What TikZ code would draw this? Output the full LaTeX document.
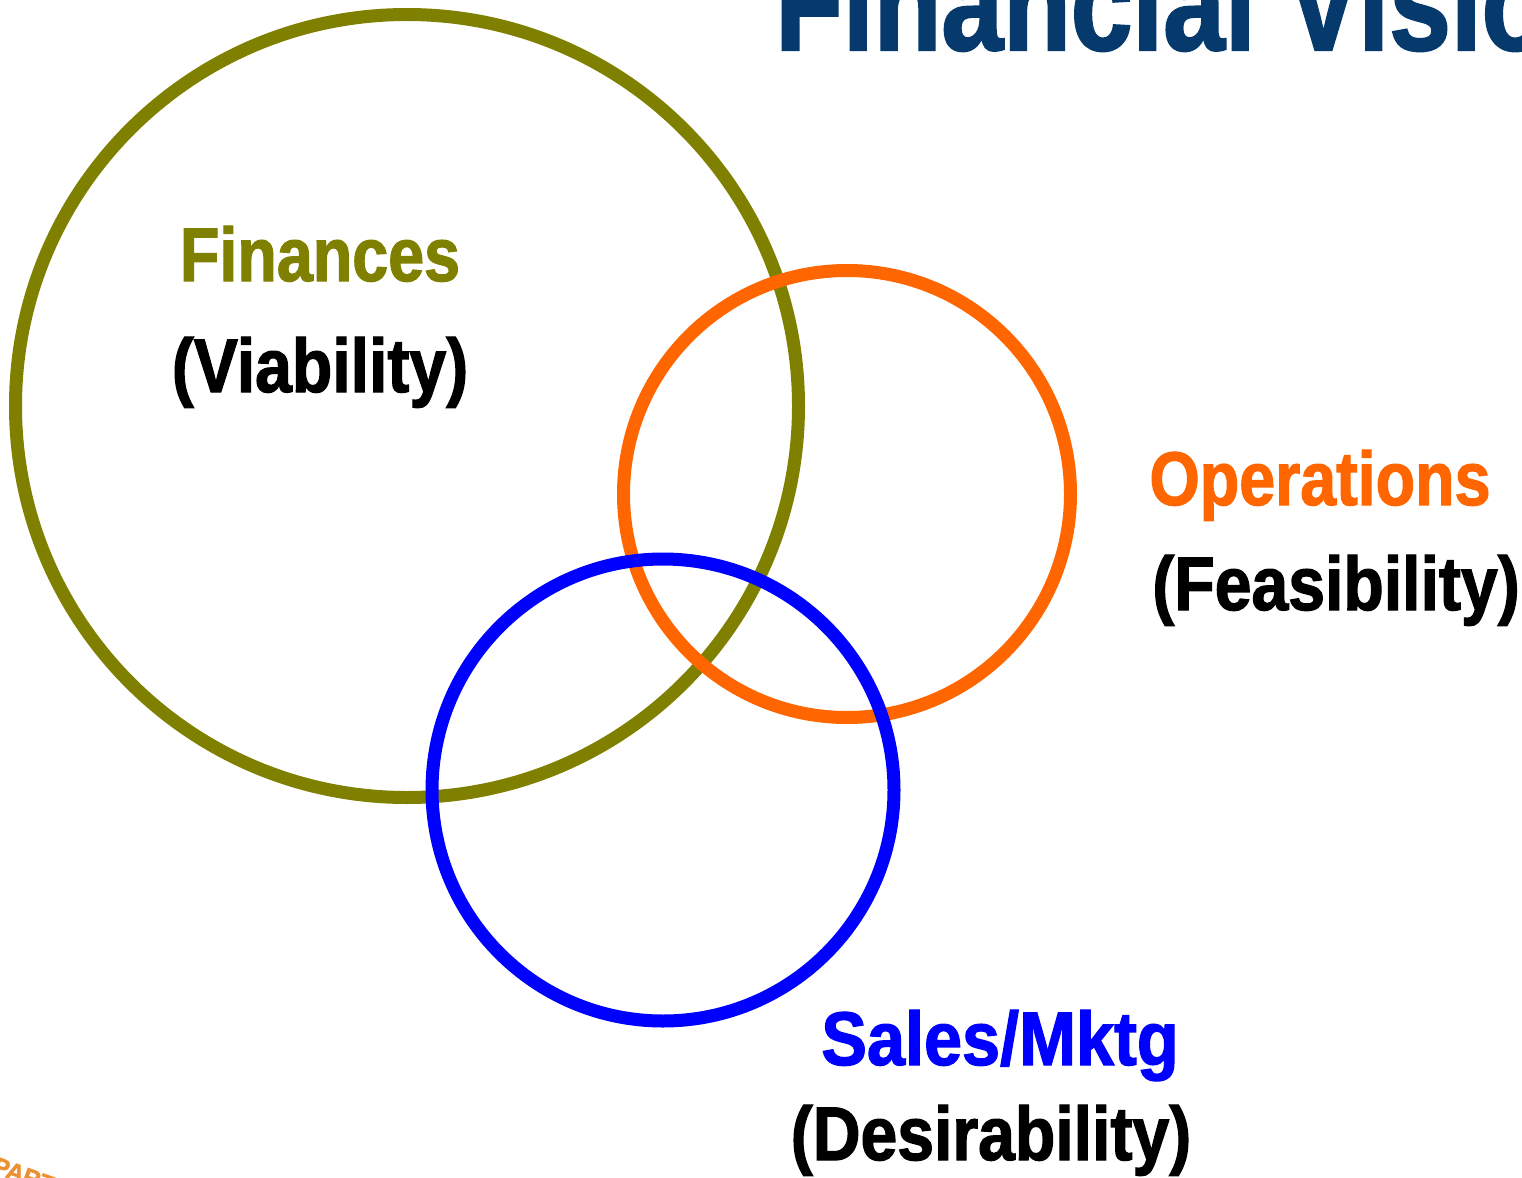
\documentclass[tikz,border=0pt]{standalone}
\usepackage{fontspec}
\setmainfont{Liberation Sans}
\newfontfamily\condf[FakeStretch=0.87,BoldFeatures={FakeBold=1.6}]{Liberation Sans}
\newfontfamily\condn[FakeStretch=0.85,BoldFeatures={FakeBold=1.6}]{Liberation Sans}
\newfontfamily\condw[FakeStretch=0.90,BoldFeatures={FakeBold=1.6}]{Liberation Sans}
\newfontfamily\titlef[FakeStretch=0.815,BoldFeatures={FakeBold=1.6}]{Liberation Sans}
\newfontfamily\logof[BoldFeatures={FakeBold=2}]{Liberation Sans}
\definecolor{olv}{RGB}{128,128,0}
\definecolor{org}{RGB}{255,102,0}
\definecolor{blu}{RGB}{0,0,255}
\definecolor{nav}{RGB}{6,58,108}
\definecolor{logoorg}{RGB}{236,145,50}
\tikzset{
 ring/.style={circle,draw,line width=13pt,inner sep=0pt,fill=none},
 lbl/.style={font=\condf\bfseries\fontsize{76}{76}\selectfont,inner sep=0pt,anchor=base},
 lbln/.style={lbl,font=\condn\bfseries\fontsize{76}{76}\selectfont},
 lblw/.style={lbl,font=\condw\bfseries\fontsize{76}{76}\selectfont},
}
\begin{document}
\begin{tikzpicture}[x=1pt,y=-1pt]
\useasboundingbox (0,0) rectangle (1522,1177);
\node[ring,draw=olv,minimum size=783pt] (fin) at (407,406) {};
\node[ring,draw=org,minimum size=447pt] (ops) at (847,494) {};
\node[ring,draw=blu,minimum size=462pt] (sal) at (663,790) {};
\begin{scope}
\clip (0,0) rectangle (1522,1177);
\node[lbl,text=nav,font=\titlef\bfseries\fontsize{136}{136}\selectfont,anchor=base west] (title) at (775,50) {Financial Vision};
\node[font=\logof\bfseries\fontsize{24}{24}\selectfont,text=logoorg,rotate=-20,inner sep=0pt,anchor=base west] (logo) at (-9,1172) {PART};
\end{scope}
\node[lbln,text=olv] (a) at (320,281) {Finances};
\node[lbl] (b) at (320,392) {(Viability)};
\node[lbln,text=org] (c) at (1320,505) {Operations};
\node[lbl] (d) at (1336,610) {(Feasibility)};
\node[lblw,text=blu] (e) at (1000,1065) {Sales/Mktg};
\node[lbl] (f) at (991,1160) {(Desirability)};
\end{tikzpicture}
\end{document}
